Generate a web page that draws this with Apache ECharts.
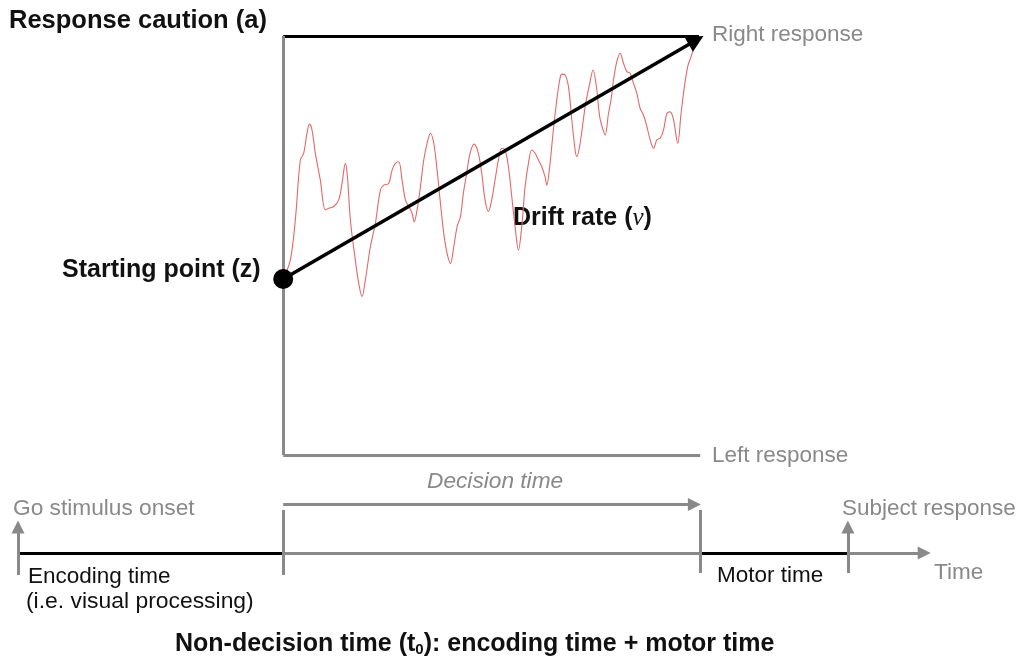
<!DOCTYPE html>
<html>
<head>
<meta charset="utf-8">
<script src="https://cdn.jsdelivr.net/npm/echarts@6/dist/echarts.min.js"></script>
<style>
html,body{margin:0;padding:0;background:#fff;}
#chart{width:1026px;height:664px;}
</style>
</head>
<body>
<div id="chart"></div>
<script>
// ---- Model parameters (time in ms, evidence as fraction of boundary separation a) ----
const encodingTime = 636;      // go stimulus onset -> start of decision
const decisionTime = 1000;     // duration of evidence accumulation
const motorTime = 354;         // decision -> subject response
const timeAxisEnd = 2187;      // end of time arrow
const boundaryA = 1;           // response caution (upper boundary)
const startingPointZ = 0.42;   // starting point (z)
const driftEnd = [990, 0.99];  // end of drift arrow (decision-relative time, evidence)

// Noisy evidence trace (decision-relative time, evidence)
const traceTime = [0, 17, 29, 41, 49, 57, 63, 69, 77, 89, 101, 109, 121, 133, 141, 149, 154, 161, 173, 181, 189, 197, 209, 221, 233, 241, 253, 261, 269, 277, 285, 293, 301, 309, 314, 321, 329, 337, 345, 353, 361, 369, 377, 385, 393, 401, 409, 417, 425, 432, 440, 448, 458, 468, 476, 484, 492, 500, 508, 516, 524, 532, 540, 548, 556, 564, 572, 580, 588, 596, 604, 612, 620, 628, 632, 639, 647, 655, 663, 668, 676, 684, 692, 700, 704, 712, 724, 735, 743, 751, 759, 767, 772, 780, 786, 792, 800, 808, 816, 824, 832, 840, 848, 856, 864, 872, 880, 888, 896, 904, 912, 920, 928, 936, 946, 954, 962, 970, 978, 986];
const traceEvidence = [0.42, 0.465, 0.561, 0.704, 0.720, 0.768, 0.790, 0.776, 0.720, 0.656, 0.585, 0.589, 0.593, 0.609, 0.648, 0.696, 0.664, 0.561, 0.465, 0.410, 0.378, 0.418, 0.497, 0.553, 0.632, 0.644, 0.648, 0.680, 0.696, 0.700, 0.656, 0.609, 0.593, 0.577, 0.557, 0.585, 0.640, 0.704, 0.744, 0.768, 0.744, 0.680, 0.601, 0.529, 0.481, 0.457, 0.497, 0.545, 0.569, 0.625, 0.672, 0.720, 0.742, 0.720, 0.672, 0.609, 0.581, 0.609, 0.656, 0.704, 0.732, 0.728, 0.688, 0.617, 0.545, 0.489, 0.545, 0.640, 0.696, 0.728, 0.720, 0.704, 0.688, 0.664, 0.644, 0.688, 0.768, 0.839, 0.895, 0.909, 0.907, 0.879, 0.800, 0.728, 0.712, 0.744, 0.831, 0.887, 0.919, 0.879, 0.807, 0.776, 0.764, 0.815, 0.847, 0.895, 0.939, 0.959, 0.935, 0.915, 0.911, 0.887, 0.863, 0.827, 0.811, 0.784, 0.752, 0.732, 0.752, 0.756, 0.776, 0.815, 0.819, 0.800, 0.744, 0.815, 0.879, 0.927, 0.951, 0.975];

// Timeline layout levels (arbitrary vertical units on the timeline strip)
const tickLow = -2.2, tickHigh = 4.3, decisionArrowLevel = 4.85, eventArrowTop = 2.6;

// Text labels
const labels = {
  caution: 'Response caution (a)',
  right: 'Right response',
  left: 'Left response',
  start: 'Starting point (z)',
  decision: 'Decision time',
  onset: 'Go stimulus onset',
  subject: 'Subject response',
  encoding1: 'Encoding time',
  encoding2: '(i.e. visual processing)',
  motor: 'Motor time',
  time: 'Time'
};

// ---- Build ----
const GRAY = '#898989';
const BLACK = '#000000';
const FONT = '"Liberation Sans", Arial, sans-serif';
const t0 = encodingTime;
const tDec = encodingTime + decisionTime;
const tResp = tDec + motorTime;

const traceData = traceTime.map((t, i) => [t0 + t, traceEvidence[i]]);

function seg(coords, color, width) {
  return { coords: coords, lineStyle: { color: color, width: width, opacity: 1, curveness: 0 } };
}

const chart = echarts.init(document.getElementById('chart'), null, { renderer: 'canvas' });

const baseLines = { type: 'lines', coordinateSystem: 'cartesian2d', silent: true, clip: false, lineStyle: { opacity: 1 } };

const option = {
  animation: false,
  backgroundColor: '#ffffff',
  grid: [
    { left: 18, width: 912, top: 36, height: 419 },
    { left: 18, width: 912, top: 483, height: 160 }
  ],
  xAxis: [
    { type: 'value', gridIndex: 0, min: 0, max: timeAxisEnd, show: false },
    { type: 'value', gridIndex: 1, min: 0, max: timeAxisEnd, show: false }
  ],
  yAxis: [
    { type: 'value', gridIndex: 0, min: 0, max: boundaryA, show: false },
    { type: 'value', gridIndex: 1, min: -9, max: 7, show: false }
  ],
  series: [
    // noisy accumulation trace
    {
      type: 'line', xAxisIndex: 0, yAxisIndex: 0, data: traceData, clip: false,
      showSymbol: false, smooth: 0.35, silent: true,
      lineStyle: { color: '#e46868', width: 1.1 }, z: 2
    },
    // boundaries and evidence axis
    Object.assign({}, baseLines, {
      xAxisIndex: 0, yAxisIndex: 0, symbol: ['none', 'none'], z: 3,
      data: [
        seg([[t0, boundaryA], [tDec - 3, boundaryA]], BLACK, 3),
        seg([[t0, boundaryA], [t0, 0]], GRAY, 3),
        seg([[t0, 0], [tDec, 0]], GRAY, 3)
      ]
    }),
    // drift arrow
    Object.assign({}, baseLines, {
      xAxisIndex: 0, yAxisIndex: 0, symbol: ['none', 'triangle'], symbolSize: [0, 17], z: 4,
      data: [ seg([[t0, startingPointZ], [t0 + driftEnd[0], driftEnd[1]]], BLACK, 3.5) ]
    }),
    // starting point dot
    {
      type: 'scatter', xAxisIndex: 0, yAxisIndex: 0, symbolSize: 20, silent: true, z: 5, clip: false,
      itemStyle: { color: BLACK, opacity: 1 }, data: [[t0, startingPointZ]]
    },
    // timeline plain segments
    Object.assign({}, baseLines, {
      xAxisIndex: 1, yAxisIndex: 1, symbol: ['none', 'none'], z: 3,
      data: [
        seg([[0, 0], [t0, 0]], BLACK, 3),
        seg([[t0, 0], [tDec, 0]], GRAY, 3),
        seg([[tDec, 0], [tResp, 0]], BLACK, 3),
        seg([[t0, tickLow], [t0, tickHigh]], GRAY, 3),
        seg([[tDec, tickLow + 0.2], [tDec, tickHigh]], GRAY, 3)
      ]
    }),
    // timeline arrows
    Object.assign({}, baseLines, {
      xAxisIndex: 1, yAxisIndex: 1, symbol: ['none', 'triangle'], symbolSize: [0, 13], z: 4,
      data: [
        seg([[tResp, 0], [timeAxisEnd - 14, 0]], GRAY, 3),
        seg([[t0, decisionArrowLevel], [tDec - 14, decisionArrowLevel]], GRAY, 3),
        seg([[0, tickLow], [0, eventArrowTop]], GRAY, 3),
        seg([[tResp, tickLow + 0.2], [tResp, eventArrowTop]], GRAY, 3)
      ]
    })
  ],
  graphic: [
    { type: 'text', left: 9, top: 8, style: { text: labels.caution, font: 'bold 25.5px ' + FONT, fill: '#111' } },
    { type: 'text', left: 712, top: 23, style: { text: labels.right, font: '22.5px ' + FONT, fill: GRAY } },
    { type: 'text', left: 712, top: 444, style: { text: labels.left, font: '22.5px ' + FONT, fill: GRAY } },
    { type: 'text', left: 62, top: 258, style: { text: labels.start, font: 'bold 25px ' + FONT, fill: '#111' } },
    { type: 'text', left: 513, top: 206, style: {
        text: '{b|Drift rate (}{v|v}{b|)}',
        rich: {
          b: { font: 'bold 25px ' + FONT, fill: '#111' },
          v: { font: 'italic 25px "Liberation Serif", "DejaVu Serif", serif', fill: '#111' }
        } } },
    { type: 'text', left: 427, top: 470, style: { text: labels.decision, font: 'italic 22.7px ' + FONT, fill: GRAY } },
    { type: 'text', left: 13, top: 497, style: { text: labels.onset, font: '22.7px ' + FONT, fill: GRAY } },
    { type: 'text', left: 842, top: 497, style: { text: labels.subject, font: '22.5px ' + FONT, fill: GRAY } },
    { type: 'text', left: 28, top: 565, style: { text: labels.encoding1, font: '22.5px ' + FONT, fill: '#111' } },
    { type: 'text', left: 26, top: 590, style: { text: labels.encoding2, font: '22.9px ' + FONT, fill: '#111' } },
    { type: 'text', left: 717, top: 564, style: { text: labels.motor, font: '22.5px ' + FONT, fill: '#111' } },
    { type: 'text', left: 934, top: 561, style: { text: labels.time, font: '22.5px ' + FONT, fill: GRAY } },
    { type: 'text', left: 175, top: 632, style: {
        text: '{b|Non-decision time (t}{s|0}{b|): encoding time + motor time}',
        rich: {
          b: { font: 'bold 25px ' + FONT, fill: '#111' },
          s: { font: 'bold 15px ' + FONT, fill: '#111', padding: [11, 0, 0, 0] }
        } } }
  ]
};

chart.setOption(option);
</script>
</body>
</html>
